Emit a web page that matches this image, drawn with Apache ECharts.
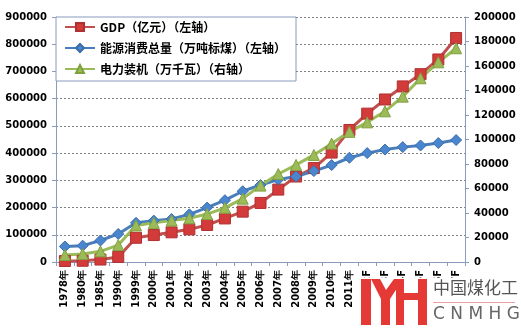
<!DOCTYPE html>
<html>
<head>
<meta charset="utf-8">
<script src="https://cdn.jsdelivr.net/npm/echarts@6/dist/echarts.min.js"></script>
<style>
html,body{margin:0;padding:0;background:#fff;}
#c{width:521px;height:330px;}
</style>
</head>
<body>
<div id="c"></div>
<script>
const categories = ['1978年','1980年','1985年','1990年','1999年','2000年','2001年','2002年','2003年','2004年','2005年','2006年','2007年','2008年','2009年','2010年','2011年','2012F','2013F','2014F','2015F','2016F','2017F'];
const gdp = [3645, 4546, 9016, 18668, 89000, 99000, 109000, 120000, 136000, 160000, 185000, 217000, 266000, 314000, 345000, 402000, 485000, 545000, 597000, 645000, 690000, 744000, 823000];
const energy = [57000, 60000, 79000, 103000, 144000, 152000, 158000, 175000, 200000, 227000, 260000, 283000, 303000, 314000, 334000, 356000, 383000, 400000, 413000, 422000, 428000, 437000, 448000];
const power = [5712, 6587, 8705, 13789, 29877, 31932, 33849, 35657, 39141, 44239, 51718, 62370, 71822, 79273, 87410, 96641, 106253, 114000, 123000, 135000, 150000, 163000, 174500];
const seriesNames = ['GDP（亿元）（左轴）','能源消费总量（万吨标煤）（左轴）','电力装机（万千瓦）（右轴）'];
const leftTicks = {min:0, max:900000, interval:100000};
const rightTicks = {min:0, max:200000, interval:20000};

const chart = echarts.init(document.getElementById('c'));
const axisFont = {fontFamily:'DejaVu Sans', fontWeight:'bold', fontSize:10, color:'#000'};
const axisLineColor = '#8a9cbc';
const plain = v => String(v);
chart.setOption({
  backgroundColor:'#fff',
  animation:false,
  grid:{left:56, right:56, top:17, bottom:68},
  legend:{
    orient:'vertical', left:56, top:17,
    backgroundColor:'#fff', borderColor:axisLineColor, borderWidth:1,
    padding:[4,10,6,8], itemGap:9, itemWidth:30, itemHeight:10,
    textStyle:{fontFamily:'Noto Sans CJK SC', fontWeight:'bold', fontSize:12, color:'#000'},
    data:seriesNames
  },
  xAxis:{
    type:'category', data:categories, boundaryGap:true,
    axisLine:{lineStyle:{color:axisLineColor, width:1}},
    axisTick:{show:true, length:4, lineStyle:{color:axisLineColor}},
    axisLabel:Object.assign({rotate:90, margin:8, interval:0}, axisFont)
  },
  yAxis:[
    {type:'value', min:leftTicks.min, max:leftTicks.max, interval:leftTicks.interval,
     axisLine:{show:true, lineStyle:{color:axisLineColor}},
     axisTick:{show:true, length:4, lineStyle:{color:axisLineColor}},
     axisLabel:Object.assign({margin:9, formatter:plain}, axisFont),
     splitLine:{show:true, lineStyle:{color:'#7f7f7f', type:[2,2], width:1}}},
    {type:'value', min:rightTicks.min, max:rightTicks.max, interval:rightTicks.interval,
     axisLine:{show:true, lineStyle:{color:axisLineColor}},
     axisTick:{show:true, length:4, lineStyle:{color:axisLineColor}},
     axisLabel:Object.assign({margin:9, formatter:plain}, axisFont),
     splitLine:{show:false}}
  ],
  series:[
    {name:seriesNames[0], type:'line', data:gdp, yAxisIndex:0, symbol:'rect', symbolSize:11,
     lineStyle:{color:'#c0504d', width:3}, itemStyle:{color:'#d33b3b', borderColor:'#b03030', borderWidth:1}},
    {name:seriesNames[1], type:'line', data:energy, yAxisIndex:0, symbol:'diamond', symbolSize:11,
     lineStyle:{color:'#4a7ebb', width:3}, itemStyle:{color:'#4a86cf', borderColor:'#3a6ea8', borderWidth:1}},
    {name:seriesNames[2], type:'line', data:power, yAxisIndex:1, symbol:'triangle', symbolSize:11,
     lineStyle:{color:'#9bbb59', width:3}, itemStyle:{color:'#9bbb59', borderColor:'#80a040', borderWidth:1}}
  ],
  graphic:[
    {type:'rect', shape:{x:356, y:278, width:165, height:52}, style:{fill:'#fff'}, z:100},
    {type:'rect', shape:{x:361, y:279, width:10, height:46}, style:{fill:'#e53935'}, z:101},
    {type:'polygon', shape:{points:[[371,279],[380,279],[386,290],[394,279],[403,279],[390,299],[390,325],[381,325],[381,299]]}, style:{fill:'#e53935'}, z:101},
    {type:'rect', shape:{x:396, y:279, width:8, height:46}, style:{fill:'#e53935'}, z:101},
    {type:'rect', shape:{x:418, y:279, width:9, height:46}, style:{fill:'#e53935'}, z:101},
    {type:'rect', shape:{x:404, y:293, width:14, height:7}, style:{fill:'#e53935'}, z:101},
    {type:'text', left:433, top:279, style:{text:'中国煤化工', font:'17px "Noto Sans CJK SC"', fill:'#555'}, z:101},
    {type:'rect', shape:{x:433, y:302, width:82, height:1}, style:{fill:'#e8a0a0'}, z:101},
    {type:'text', left:433, top:306, style:{text:'C N M H G', font:'17px "DejaVu Sans"', fill:'#666'}, z:101}
  ]
});
</script>
</body>
</html>
